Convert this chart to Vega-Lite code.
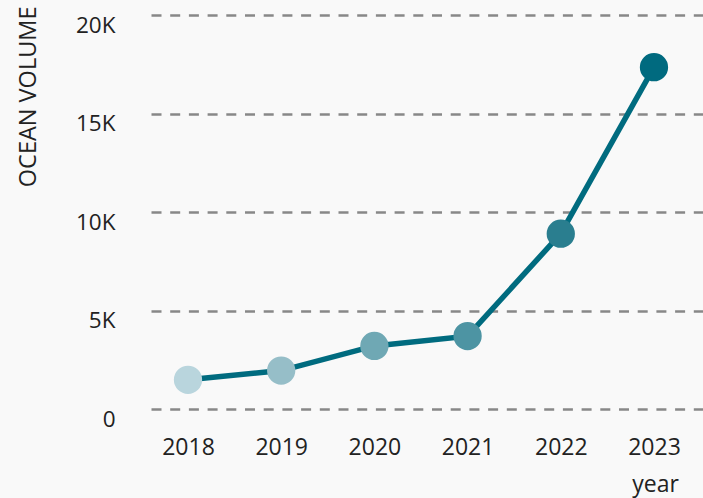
{
  "$schema": "https://vega.github.io/schema/vega-lite/v6.json",
  "autosize": {"type": "none"},
  "width": 552,
  "height": 394,
  "padding": {"left": 151, "top": 15, "right": 0, "bottom": 89},
  "background": "#f9f9f9",
  "config": {
    "view": {"stroke": null},
    "font": "Open Sans",
    "axis": {"labelFont": "Open Sans", "titleFont": "Open Sans", "labelColor": "#222222", "titleColor": "#222222", "titleFontWeight": "normal"}
  },
  "data": {
    "values": [
      {"year": 2018, "volume": 1480},
      {"year": 2019, "volume": 1950},
      {"year": 2020, "volume": 3200},
      {"year": 2021, "volume": 3700},
      {"year": 2022, "volume": 8900},
      {"year": 2023, "volume": 17350}
    ]
  },
  "encoding": {
    "x": {
      "field": "year",
      "type": "quantitative",
      "scale": {"domain": [2017.603, 2023.526], "nice": false, "zero": false},
      "axis": {
        "values": [2018, 2019, 2020, 2021, 2022, 2023],
        "format": "d",
        "grid": false,
        "domain": false,
        "ticks": false,
        "labelFontSize": 23,
        "labelPadding": 27,
        "title": "year",
        "titleFontSize": 23,
        "titleX": 504,
        "titleY": 82,
        "titleAlign": "center",
        "titleBaseline": "alphabetic"
      }
    },
    "y": {
      "field": "volume",
      "type": "quantitative",
      "scale": {"domain": [0, 20000], "nice": false},
      "axis": {
        "values": [0, 5000, 10000, 15000, 20000],
        "labelExpr": "datum.value == 0 ? '0' : format(datum.value / 1000, 'd') + 'K'",
        "grid": true,
        "gridDash": [10, 8.7],
        "gridColor": "#888888",
        "gridWidth": 2.5,
        "domain": false,
        "ticks": false,
        "labelFontSize": 22.5,
        "labelPadding": 36,
        "labelBaseline": "alphabetic",
        "labelOffset": 17,
        "title": "OCEAN VOLUME",
        "titleFontSize": 23.5,
        "titleAnchor": "end",
        "titleAlign": "right",
        "titleX": -123,
        "titleY": -9,
        "titleBaseline": "middle"
      }
    }
  },
  "layer": [
    {
      "mark": {"type": "line", "color": "#006b7f", "strokeWidth": 5.5}
    },
    {
      "mark": {"type": "circle", "opacity": 1, "size": 800},
      "encoding": {
        "color": {
          "field": "year",
          "type": "ordinal",
          "scale": {"domain": [2018, 2019, 2020, 2021, 2022, 2023], "range": ["#b9d5dd", "#96bec8", "#6fa8b4", "#4d94a3", "#2a7e8f", "#006a7f"]},
          "legend": null
        }
      }
    }
  ]
}
